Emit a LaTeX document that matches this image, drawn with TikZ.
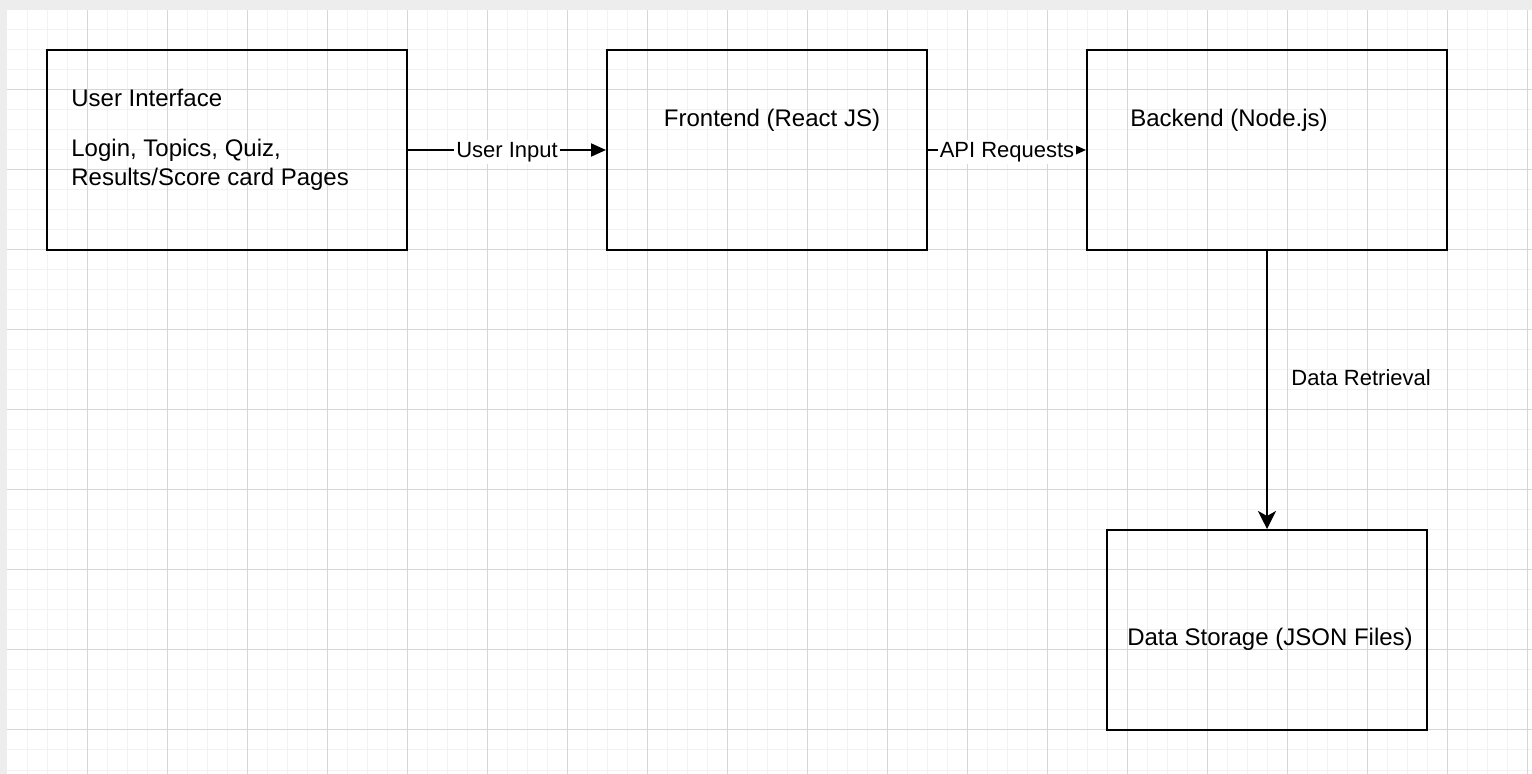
\documentclass[tikz,border=0pt]{standalone}
\usepackage{fontspec}
\setmainfont{Liberation Sans}
\usetikzlibrary{arrows.meta}
\definecolor{outerbg}{HTML}{EDEDED}
\definecolor{minorgrid}{HTML}{F2F2F2}
\definecolor{majorgrid}{HTML}{D6D6D6}
\tikzset{
  boxnode/.style={draw=black, line width=1pt, fill=none, inner sep=0pt},
  maintext/.style={font=\fontsize{12}{14}\selectfont, inner sep=0pt},
  edgetext/.style={font=\fontsize{11}{13}\selectfont, inner sep=0pt},
  edgelabel/.style={edgetext, fill=white, inner xsep=1pt, inner ysep=1pt, yshift=-1pt},
  harrow/.style={line width=1pt, -{Triangle[length=7.5pt, width=6.5pt]}},
  varrow/.style={line width=1pt, -{Stealth[length=9pt, width=9pt, inset=2.5pt]}},
}
\begin{document}
\begin{tikzpicture}[x=0.5pt, y=-0.5pt]
\useasboundingbox (0,0) rectangle (1532,774);
% page background and grid
\fill[outerbg] (0,0) rectangle (1532,774);
\fill[white] (7,10) rectangle (1532,774);
\foreach \gx in {27,47,...,1527} {\draw[minorgrid, line width=0.5pt] (\gx,10) -- (\gx,774);}
\foreach \gy in {30,50,...,770} {\draw[minorgrid, line width=0.5pt] (7,\gy) -- (1532,\gy);}
\foreach \gx in {87,167,...,1527} {\draw[majorgrid, line width=0.5pt] (\gx,10) -- (\gx,774);}
\foreach \gy in {90,170,...,770} {\draw[majorgrid, line width=0.5pt] (7,\gy) -- (1532,\gy);}
% boxes
\node[boxnode, minimum width=180pt, minimum height=100pt] (ui) at (227,150) {};
\node[boxnode, minimum width=160pt, minimum height=100pt] (fe) at (767,150) {};
\node[boxnode, minimum width=180pt, minimum height=100pt] (be) at (1267,150) {};
\node[boxnode, minimum width=160pt, minimum height=100pt] (ds) at (1267,630) {};
% box texts
\node[maintext, anchor=base west] (uititle) at (71,107) {User Interface};
\node[maintext, anchor=base west] (uiline1) at (71,157) {Login, Topics, Quiz,};
\node[maintext, anchor=base west] (uiline2) at (71,185.5) {Results/Score card Pages};
\node[maintext, anchor=base] (fetext) at (772,126.5) {Frontend (React JS)};
\node[maintext, anchor=base] (betext) at (1229,126.5) {Backend (Node.js)};
\node[maintext, anchor=base] (dstext) at (1270,645.5) {Data Storage (JSON Files)};
% connectors
\draw[harrow] (ui.east) -- (fe.west) node[edgelabel, midway] (lbl1) {User Input};
\draw[harrow] (fe.east) -- (be.west) node[edgelabel, midway] (lbl2) {API Requests};
\draw[varrow] (be.south) -- (ds.north);
\node[edgetext, anchor=base west] (lbl3) at (1291,386) {Data Retrieval};
\end{tikzpicture}
\end{document}
